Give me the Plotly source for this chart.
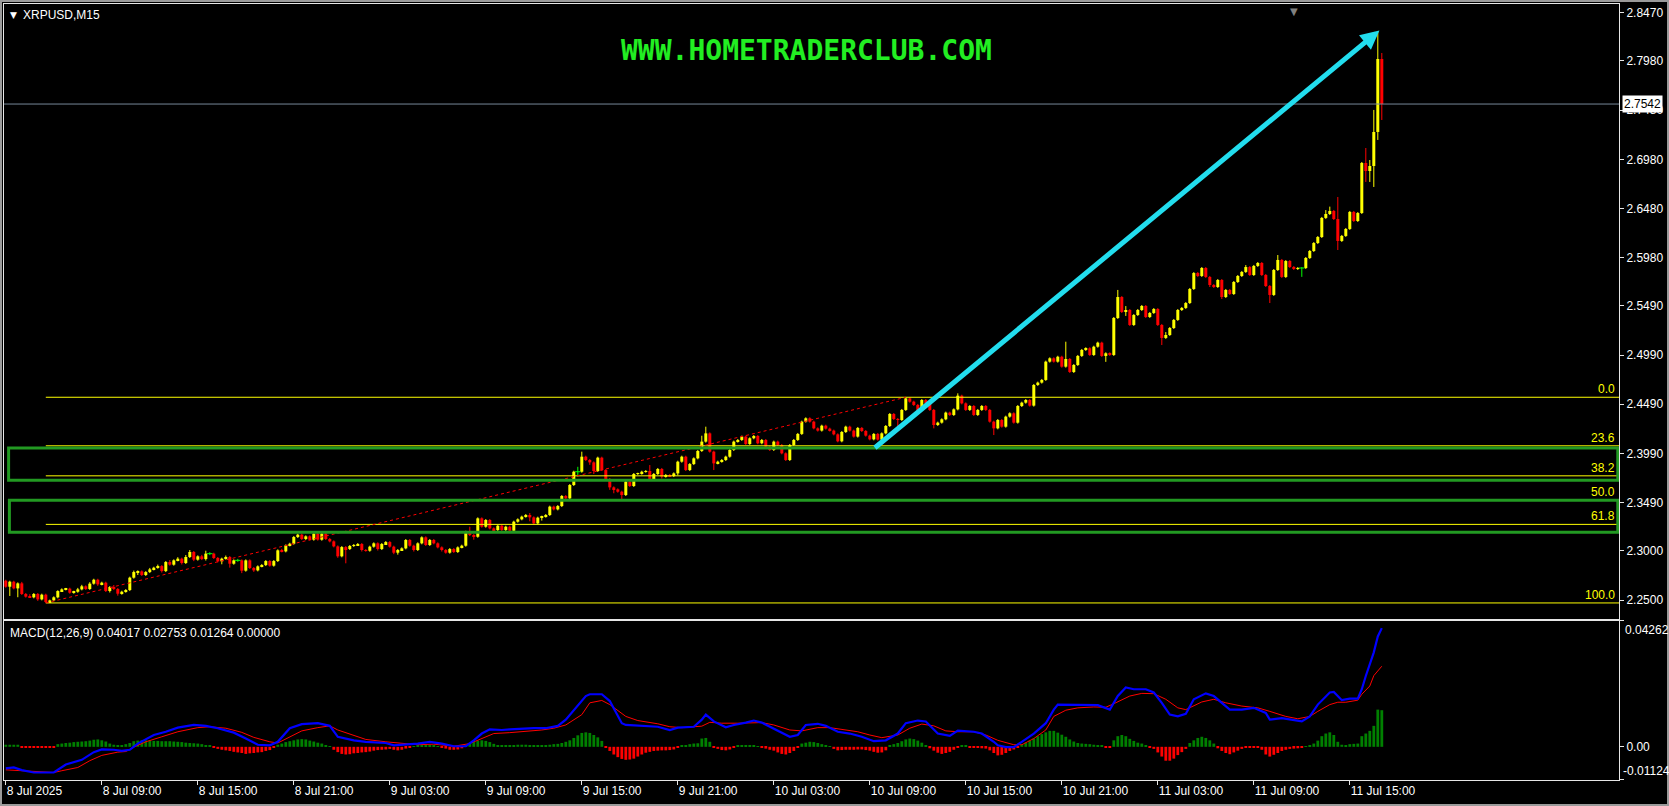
import plotly.graph_objects as go

# ------------------------------------------------------------------ data
# XRPUSD M15 closes, one per bar, first bar = 8 Jul 03:00
close = [
    2.2635, 2.2686, 2.2618, 2.2669, 2.2561, 2.2534, 2.2527, 2.2561, 2.2506, 2.2554,
    2.2479, 2.2496, 2.2527, 2.2591, 2.2608, 2.2615, 2.2574, 2.2584, 2.2608, 2.2639,
    2.2612, 2.2666, 2.2706, 2.2659, 2.2676, 2.2591, 2.2632, 2.2612, 2.2564, 2.2584,
    2.2601, 2.2727, 2.2784, 2.2791, 2.2754, 2.2784, 2.2811, 2.2828, 2.2845, 2.2794,
    2.2886, 2.2859, 2.2903, 2.2920, 2.2876, 2.2937, 2.2988, 2.2910, 2.2944, 2.2916,
    2.2971, 2.2971, 2.2927, 2.2893, 2.2920, 2.2937, 2.2869, 2.2903, 2.2903, 2.2798,
    2.2903, 2.2825, 2.2801, 2.2842, 2.2855, 2.2896, 2.2849, 2.2896, 2.3005, 2.2994,
    2.3055, 2.3072, 2.3140, 2.3164, 2.3120, 2.3147, 2.3113, 2.3174, 2.3113, 2.3174,
    2.3120, 2.3096, 2.3045, 2.2944, 2.3038, 2.3018, 2.3049, 2.3059, 2.3069, 2.3008,
    2.3001, 2.3042, 2.3076, 2.3018, 2.3069, 2.3089, 2.3042, 2.2981, 2.3008, 2.3025,
    2.3110, 2.3052, 2.3008, 2.3076, 2.3137, 2.3059, 2.3110, 2.3076, 2.3035, 2.3008,
    2.2981, 2.3018, 2.2988, 2.3035, 2.3052, 2.3194, 2.3160, 2.3143, 2.3330, 2.3245,
    2.3313, 2.3228, 2.3211, 2.3255, 2.3211, 2.3245, 2.3204, 2.3296, 2.3320, 2.3347,
    2.3364, 2.3340, 2.3279, 2.3337, 2.3347, 2.3364, 2.3449, 2.3421, 2.3455, 2.3557,
    2.3533, 2.3669, 2.3804, 2.3804, 2.3957, 2.3923, 2.3899, 2.3811, 2.3947, 2.3821,
    2.3730, 2.3645, 2.3625, 2.3601, 2.3567, 2.3703, 2.3659, 2.3781, 2.3784, 2.3804,
    2.3811, 2.3730, 2.3781, 2.3832, 2.3754, 2.3771, 2.3760, 2.3787, 2.3906, 2.3957,
    2.3821, 2.3882, 2.3940, 2.4015, 2.4110, 2.4194, 2.4008, 2.3889, 2.3906, 2.3923,
    2.3957, 2.4025, 2.4110, 2.4127, 2.4161, 2.4086, 2.4144, 2.4167, 2.4093, 2.4127,
    2.4059, 2.4025, 2.4110, 2.4076, 2.3991, 2.3923, 2.4076, 2.4127, 2.4188, 2.4313,
    2.4347, 2.4313, 2.4245, 2.4222, 2.4272, 2.4242, 2.4222, 2.4184, 2.4113, 2.4208,
    2.4262, 2.4222, 2.4161, 2.4249, 2.4218, 2.4171, 2.4133, 2.4188, 2.4130, 2.4194,
    2.4269, 2.4391, 2.4340, 2.4330, 2.4432, 2.4550, 2.4516, 2.4483, 2.4432, 2.4533,
    2.4499, 2.4432, 2.4279, 2.4303, 2.4337, 2.4405, 2.4381, 2.4438, 2.4577, 2.4499,
    2.4432, 2.4472, 2.4381, 2.4432, 2.4472, 2.4432, 2.4313, 2.4245, 2.4330, 2.4262,
    2.4364, 2.4398, 2.4303, 2.4472, 2.4506, 2.4533, 2.4476, 2.4686, 2.4710, 2.4737,
    2.4923, 2.4957, 2.4923, 2.4973, 2.4872, 2.4950, 2.4818, 2.4889, 2.4981, 2.5042,
    2.5059, 2.4991, 2.5075, 2.5116, 2.4981, 2.5008, 2.4991, 2.5367, 2.5580, 2.5428,
    2.5448, 2.5296, 2.5397, 2.5448, 2.5489, 2.5377, 2.5418, 2.5458, 2.5296, 2.5164,
    2.5194, 2.5265, 2.5347, 2.5448, 2.5469, 2.5519, 2.5662, 2.5824, 2.5794, 2.5875,
    2.5784, 2.5702, 2.5682, 2.5753, 2.5580, 2.5652, 2.5611, 2.5733, 2.5794, 2.5835,
    2.5885, 2.5804, 2.5896, 2.5926, 2.5804, 2.5692, 2.5601, 2.5855, 2.5957, 2.5784,
    2.5946, 2.5885, 2.5865, 2.5875, 2.5875, 2.5977, 2.6048, 2.6129, 2.6190, 2.6384,
    2.6424, 2.6455, 2.6373, 2.6150, 2.6201, 2.6272, 2.6445, 2.6353, 2.6434, 2.6943,
    2.6861, 2.6912, 2.7258, 2.8000, 2.7542,
]
first_open = 2.2696
WICK_UNIT = 0.0001
# wick lengths above / below the body, in WICK_UNIT
wick_up = [
    10, 10, 10, 10, 15, 10, 25, 10, 10, 10,
    10, 8, 10, 8, 10, 8, 10, 10, 15, 15,
    10, 15, 10, 10, 10, 10, 10, 20, 10, 10,
    10, 10, 15, 10, 10, 10, 15, 10, 15, 10,
    10, 20, 10, 15, 10, 20, 20, 10, 10, 15,
    30, 15, 10, 10, 10, 15, 10, 10, 15, 10,
    10, 10, 10, 10, 10, 10, 10, 10, 10, 15,
    10, 10, 10, 10, 10, 10, 10, 10, 10, 10,
    10, 10, 10, 10, 10, 10, 10, 10, 10, 10,
    10, 10, 10, 10, 10, 10, 10, 10, 10, 10,
    10, 10, 10, 10, 10, 10, 10, 10, 10, 10,
    10, 10, 10, 10, 10, 10, 51, 10, 10, 10,
    10, 10, 10, 10, 10, 10, 10, 10, 10, 10,
    10, 20, 10, 10, 10, 10, 10, 10, 10, 10,
    10, 10, 10, 50, 51, 10, 10, 10, 10, 10,
    10, 10, 10, 10, 10, 10, 10, 10, 10, 10,
    10, 61, 10, 10, 10, 10, 10, 10, 10, 10,
    10, 10, 10, 10, 60, 68, 10, 10, 10, 10,
    10, 20, 10, 10, 10, 10, 10, 10, 10, 10,
    10, 10, 10, 10, 10, 10, 10, 10, 10, 10,
    10, 10, 10, 10, 10, 10, 10, 10, 10, 10,
    10, 10, 10, 10, 10, 10, 10, 10, 10, 10,
    10, 10, 10, 10, 10, 11, 10, 10, 10, 10,
    10, 10, 10, 10, 10, 10, 10, 10, 24, 10,
    10, 10, 10, 10, 10, 10, 10, 10, 10, 10,
    10, 10, 10, 10, 10, 10, 10, 10, 10, 10,
    10, 10, 10, 10, 10, 176, 10, 10, 10, 10,
    10, 10, 10, 10, 10, 10, 10, 10, 72, 10,
    40, 10, 10, 10, 10, 10, 10, 10, 10, 10,
    30, 10, 10, 10, 10, 10, 10, 10, 10, 10,
    10, 10, 10, 10, 10, 10, 10, 10, 10, 10,
    20, 10, 10, 10, 10, 10, 10, 10, 50, 10,
    10, 10, 10, 10, 10, 10, 10, 10, 10, 10,
    40, 44, 10, 224, 10, 10, 10, 10, 10, 10,
    152, 61, 224, 278, 61,
]
wick_dn = [
    10, 94, 10, 90, 10, 10, 5, 10, 15, 10,
    9, 10, 8, 10, 10, 10, 10, 10, 10, 10,
    10, 10, 10, 15, 10, 10, 15, 10, 20, 10,
    10, 10, 10, 30, 10, 10, 10, 10, 10, 15,
    10, 10, 10, 10, 15, 10, 10, 15, 10, 10,
    15, 15, 10, 10, 30, 10, 40, 10, 15, 25,
    10, 10, 15, 10, 10, 10, 10, 10, 10, 10,
    10, 10, 10, 10, 10, 10, 10, 10, 10, 10,
    10, 10, 10, 15, 10, 145, 10, 10, 10, 15,
    10, 10, 10, 15, 10, 10, 10, 15, 20, 10,
    10, 10, 15, 10, 10, 10, 10, 10, 10, 15,
    10, 10, 10, 10, 10, 10, 10, 30, 10, 10,
    10, 10, 10, 10, 10, 10, 10, 10, 10, 10,
    10, 40, 10, 10, 30, 10, 10, 10, 10, 10,
    10, 10, 10, 50, 10, 10, 25, 30, 10, 10,
    10, 25, 40, 10, 50, 10, 10, 10, 10, 10,
    10, 10, 10, 10, 20, 10, 10, 10, 20, 10,
    10, 10, 10, 10, 10, 10, 10, 68, 10, 10,
    10, 10, 10, 10, 10, 10, 10, 10, 10, 10,
    10, 10, 10, 10, 10, 10, 10, 10, 10, 10,
    10, 10, 10, 10, 10, 10, 10, 10, 10, 10,
    10, 10, 10, 10, 10, 10, 10, 10, 10, 10,
    10, 10, 10, 61, 10, 10, 10, 10, 10, 10,
    10, 10, 34, 10, 10, 10, 10, 10, 10, 10,
    10, 10, 10, 10, 10, 10, 10, 68, 10, 10,
    10, 10, 10, 10, 10, 10, 10, 10, 10, 10,
    10, 10, 10, 10, 10, 10, 10, 10, 10, 10,
    10, 10, 10, 10, 10, 60, 10, 10, 10, 10,
    40, 10, 10, 10, 10, 10, 10, 10, 10, 72,
    10, 10, 10, 10, 10, 10, 10, 10, 10, 10,
    10, 20, 10, 10, 20, 10, 10, 10, 10, 10,
    10, 10, 10, 10, 10, 10, 82, 10, 10, 10,
    10, 10, 10, 10, 90, 10, 10, 10, 10, 10,
    10, 10, 10, 92, 10, 10, 10, 10, 10, 10,
    111, 111, 213, 81, 162,
]

time_tick_bars = [0, 24, 48, 72, 96, 120, 144, 168, 192, 216, 240, 264, 288, 312, 336]
time_tick_labels = ["8 Jul 2025", "8 Jul 09:00", "8 Jul 15:00", "8 Jul 21:00", "9 Jul 03:00",
                    "9 Jul 09:00", "9 Jul 15:00", "9 Jul 21:00", "10 Jul 03:00", "10 Jul 09:00",
                    "10 Jul 15:00", "10 Jul 21:00", "11 Jul 03:00", "11 Jul 09:00", "11 Jul 15:00"]
price_ticks = [2.2500, 2.3000, 2.3490, 2.3990, 2.4490, 2.4990, 2.5490, 2.5980,
               2.6480, 2.6980, 2.7480, 2.7980, 2.8470]
bid_price = 2.7542

fib_low, fib_high = 2.2470, 2.4561
fib_low_bar, fib_high_bar = 10, 225
fib_ratios = [0.0, 23.6, 38.2, 50.0, 61.8, 100.0]
zone_bands = [(2.3717, 2.4045), (2.3188, 2.3514)]
zone_left_bars = [0.7, 0.9]
arrow_tail = (216.9, 2.4035)
arrow_head = (343.4, 2.8290)

MACD_UNIT = 0.0001
macd_hist = [
    7, 7, 7, 7, -3, -3, -3, -3, -3, -3,
    -3, -3, -3, 9, 11, 13, 14, 16, 17, 18,
    19, 21, 24, 25, 22, 18, 11, 7, 5, 3,
    9, 13, 19, 21, 22, 22, 21, 20, 20, 19,
    19, 19, 18, 17, 16, 14, 13, 12, 11, 9,
    6, 4, -4, -7, -10, -12, -14, -17, -19, -21,
    -24, -22, -21, -19, -18, -14, -11, -4, 7, 11,
    16, 19, 22, 25, 26, 25, 21, 18, 14, 11,
    6, 2, -10, -18, -24, -26, -25, -22, -21, -19,
    -18, -16, -13, -11, -10, -9, -7, -10, -12, -10,
    -6, -2, 1, 3, 4, 5, 5, 4, 2, -1,
    -6, -10, -10, -9, -5, 6, 11, 17, 21, 22,
    20, 16, 10, 5, 4, 4, 5, 6, 7, 7,
    7, 6, 5, 5, 5, 6, 7, 9, 10, 13,
    17, 22, 30, 39, 47, 49, 47, 40, 32, 20,
    -3, -14, -26, -35, -41, -44, -43, -40, -33, -26,
    -20, -17, -14, -13, -12, -12, -11, -9, -3, 4,
    6, 9, 11, 12, 28, 30, 17, -1, -7, -11,
    -12, -9, -4, 4, 5, 5, 5, 4, 2, -4,
    -6, -10, -13, -19, -24, -26, -21, -14, -1, 11,
    14, 17, 16, 13, 9, 4, 2, -7, -12, -11,
    -10, -10, -10, -9, -9, -11, -13, -17, -20, -19,
    -12, 4, 9, 13, 19, 25, 28, 26, 21, 14,
    6, -5, -13, -20, -24, -21, -17, -10, -2, 4,
    4, -1, -3, -4, -5, -6, -12, -21, -29, -27,
    -21, -14, -9, -4, 9, 14, 21, 28, 36, 43,
    49, 54, 54, 48, 41, 34, 25, 18, 13, 11,
    10, 9, 7, 6, 4, -2, -4, 22, 36, 40,
    36, 27, 20, 14, 11, 6, -3, -7, -19, -33,
    -47, -47, -40, -28, -18, -7, 13, 22, 30, 34,
    30, 22, 11, -5, -14, -21, -25, -19, -13, -7,
    -4, -2, -1, -3, -10, -26, -33, -27, -21, -14,
    -10, -7, -6, -5, -4, 2, 5, 11, 21, 36,
    45, 49, 40, 17, 7, 6, 9, 10, 11, 36,
    45, 54, 71, 126, 124,
]
macd_main_bars = [0, 2, 4, 7, 12, 15, 19, 22, 24, 27, 29, 31, 33, 37, 40, 43, 47, 50, 53, 57,
                  60, 63, 66, 68, 71, 74, 78, 81, 83, 87, 90, 95, 97, 100, 103, 106, 109, 112, 115, 117,
                  119, 121, 124, 126, 130, 132, 135, 138, 140, 143, 145, 146, 149, 151, 154, 155, 160, 163, 166, 168,
                  172, 174, 175, 177, 180, 182, 185, 187, 189, 191, 194, 196, 198, 200, 203, 205, 208, 211, 214, 217,
                  220, 223, 225, 228, 230, 233, 236, 238, 242, 244, 247, 248, 250, 252, 254, 257, 260, 262, 263, 266,
                  270, 273, 276, 278, 280, 282, 285, 287, 289, 291, 293, 295, 297, 300, 302, 304, 306, 309, 312, 315,
                  316, 319, 321, 324, 326, 328, 331, 332, 334, 336, 338, 339, 340, 341, 342, 343, 344]
macd_main_vals = [-73, -70, -79, -87, -87, -60, -44, -18, -9, -10, -14, -10, 11, 40, 51, 65, 74, 71, 63, 48,
                  28, 7, 5, 17, 63, 77, 80, 71, 34, 22, 17, 13, 5, 7, 11, 17, 11, 2, 2, 22,
                  45, 59, 57, 59, 63, 63, 63, 71, 92, 138, 172, 178, 178, 155, 80, 74, 71, 68, 57, 65,
                  68, 92, 109, 86, 66, 74, 82, 89, 82, 68, 48, 34, 40, 74, 78, 71, 51, 45, 34, 19,
                  22, 45, 80, 89, 86, 45, 37, 55, 51, 45, 17, 5, -1, -1, 17, 45, 80, 126, 143, 143,
                  141, 141, 126, 172, 201, 195, 195, 184, 149, 109, 103, 112, 161, 181, 172, 149, 126, 126, 132, 115,
                  92, 97, 92, 86, 103, 143, 184, 186, 158, 163, 163, 195, 240, 280, 320, 374, 402]
macd_signal_bars = [0, 5, 12, 14, 18, 21, 24, 28, 30, 32, 35, 39, 43, 48, 51, 55, 59, 62, 66, 68,
                    71, 74, 78, 81, 83, 87, 90, 95, 99, 103, 107, 110, 112, 116, 119, 122, 126, 129, 134, 137,
                    140, 144, 146, 149, 151, 155, 158, 163, 166, 169, 174, 176, 179, 183, 186, 189, 192, 196, 199, 203,
                    206, 209, 213, 216, 219, 223, 226, 229, 232, 235, 238, 242, 245, 248, 252, 254, 257, 260, 262, 265,
                    268, 272, 275, 277, 281, 284, 287, 290, 293, 295, 299, 302, 305, 309, 313, 316, 320, 323, 326, 328,
                    331, 333, 335, 338, 339, 341, 342, 344]
macd_signal_vals = [-78, -81, -87, -81, -70, -47, -29, -18, -16, -1, 17, 34, 51, 65, 68, 63, 49, 32, 17, 13,
                    34, 54, 65, 71, 57, 40, 25, 17, 11, 7, 9, 5, 2, 11, 28, 45, 48, 51, 57, 63,
                    74, 109, 149, 157, 143, 103, 89, 78, 68, 65, 70, 83, 80, 80, 82, 82, 74, 57, 54, 65,
                    65, 60, 51, 40, 31, 40, 63, 77, 71, 54, 51, 51, 40, 22, 7, 7, 28, 57, 103, 124,
                    132, 135, 134, 146, 172, 181, 180, 161, 132, 126, 152, 161, 149, 138, 132, 120, 103, 95, 103, 120,
                    143, 151, 151, 158, 178, 206, 241, 273]
macd_header = "MACD(12,26,9) 0.04017 0.02753 0.01264 0.00000"
macd_top, macd_bottom = 0.04262, -0.01124

symbol_label = "XRPUSD,M15"
watermark = "WWW.HOMETRADERCLUB.COM"

# ------------------------------------------------------------------ styling
FONT = "Liberation Sans"
BULL, BEAR, DOJI = "#FFFF00", "#FF0000", "#00FF00"
X_RANGE = [-0.45, 403.3]
MAIN_DOMAIN = [0.2075, 1.0]
MACD_DOMAIN = [0.0, 0.2049]

n = len(close)
opens = [first_open] + close[:-1]
highs = [max(o, c) + u * WICK_UNIT for o, c, u in zip(opens, close, wick_up)]
lows = [min(o, c) - d * WICK_UNIT for o, c, d in zip(opens, close, wick_dn)]

groups = {"bull": ([], [], []), "bear": ([], [], []), "doji": ([], [], [])}
wicks = {"bull": ([], []), "bear": ([], []), "doji": ([], [])}
for i in range(n):
    o, c = opens[i], close[i]
    k = "bull" if c > o else ("bear" if c < o else "doji")
    gx, gh, gb = groups[k]
    gx.append(i)
    gh.append(abs(c - o))
    gb.append(min(o, c))
    wx, wy = wicks[k]
    wx += [i, i, None]
    wy += [lows[i], highs[i], None]

fig = go.Figure()
colors = {"bull": BULL, "bear": BEAR, "doji": DOJI}
for k in ("bull", "bear", "doji"):
    wx, wy = wicks[k]
    fig.add_trace(go.Scatter(x=wx, y=wy, mode="lines", line=dict(color=colors[k], width=1),
                             xaxis="x", yaxis="y", hoverinfo="skip"))
for k in ("bull", "bear"):
    gx, gh, gb = groups[k]
    fig.add_trace(go.Bar(x=gx, y=gh, base=gb, width=0.75, marker=dict(color=colors[k], line=dict(width=0)),
                         xaxis="x", yaxis="y", hoverinfo="skip"))
gx, gh, gb = groups["doji"]
fig.add_trace(go.Scatter(x=gx, y=gb, mode="markers",
                         marker=dict(symbol="line-ew", size=4, line=dict(color=DOJI, width=1)),
                         xaxis="x", yaxis="y", hoverinfo="skip"))

# MACD panel
hist_vals = [h * MACD_UNIT for h in macd_hist]
fig.add_trace(go.Bar(x=list(range(n)), y=hist_vals, width=0.7,
                     marker=dict(color=["#008000" if v > 0 else "#FF0000" for v in hist_vals], line=dict(width=0)),
                     xaxis="x2", yaxis="y2", hoverinfo="skip"))
fig.add_trace(go.Scatter(x=macd_signal_bars, y=[v * MACD_UNIT for v in macd_signal_vals], mode="lines",
                         line=dict(color="#FF0000", width=1), xaxis="x2", yaxis="y2", hoverinfo="skip"))
fig.add_trace(go.Scatter(x=macd_main_bars, y=[v * MACD_UNIT for v in macd_main_vals], mode="lines",
                         line=dict(color="#0000FF", width=2.2), xaxis="x2", yaxis="y2", hoverinfo="skip"))

shapes = []
annotations = []
# Fibonacci retracement
for r in fib_ratios:
    lvl = fib_high - (fib_high - fib_low) * r / 100.0
    shapes.append(dict(type="line", xref="x", yref="y", x0=fib_low_bar, x1=X_RANGE[1], y0=lvl, y1=lvl,
                       line=dict(color="#FFFF00", width=1), layer="above"))
    annotations.append(dict(text=f"{r:.1f}", xref="x domain", x=1, xanchor="right", xshift=-2,
                            yref="y", y=lvl, yanchor="bottom", yshift=-1, showarrow=False,
                            font=dict(family=FONT, size=12, color="#FFFF00")))
shapes.append(dict(type="line", xref="x", yref="y", x0=fib_low_bar, y0=fib_low, x1=fib_high_bar, y1=fib_high,
                   line=dict(color="#FF0000", width=1, dash="3px,3px"), layer="above"))
# zones
for (lo, hi), xl in zip(zone_bands, zone_left_bars):
    shapes.append(dict(type="rect", xref="x", yref="y", x0=xl, x1=X_RANGE[1] - 0.3, y0=lo, y1=hi,
                       line=dict(color="#229922", width=3), fillcolor="rgba(0,0,0,0)", layer="above"))
# bid line
shapes.append(dict(type="line", xref="x domain", yref="y", x0=0, x1=1, y0=bid_price, y1=bid_price,
                   line=dict(color="#778899", width=1), layer="above"))
# outer window frame
shapes.append(dict(type="rect", xref="paper", yref="paper", x0=-3 / 1615, x1=1664 / 1615, y0=-25 / 776,
                   y1=1 + 3 / 776, line=dict(color="#9a9a9a", width=2), fillcolor="rgba(0,0,0,0)"))

annotations += [
    dict(text="", x=arrow_head[0], y=arrow_head[1], xref="x", yref="y", ax=arrow_tail[0], ay=arrow_tail[1],
         axref="x", ayref="y", showarrow=True, arrowhead=2, arrowsize=0.75, arrowwidth=5,
         arrowcolor="#22DDEE", standoff=0),
    dict(text=f"{bid_price:.4f}", xref="paper", x=1, xanchor="left", xshift=3, yref="y", y=bid_price,
         yanchor="middle", showarrow=False, bgcolor="white", borderpad=1,
         font=dict(family=FONT, size=12, color="black")),
    dict(text=f"<b>{watermark}</b>", xref="paper", x=0.4966, xanchor="center", yref="paper", y=0.9407,
         yanchor="middle", showarrow=False, font=dict(family="DejaVu Sans Mono", size=28, color="#22EE22")),
    dict(text="▼", xref="paper", x=0.0025, xanchor="left", yref="paper", y=0.9858, yanchor="middle",
         showarrow=False, font=dict(family="DejaVu Sans", size=9, color="white")),
    dict(text=symbol_label, xref="paper", x=0.0105, xanchor="left", yref="paper", y=0.9858, yanchor="middle",
         showarrow=False, font=dict(family=FONT, size=12, color="white")),
    dict(text="▼", xref="paper", x=0.7988, xanchor="center", yref="paper", y=1.0, yanchor="top",
         showarrow=False, font=dict(family="DejaVu Sans", size=10, color="#808080")),
    dict(text=macd_header, xref="paper", x=0.0025, xanchor="left", yref="paper", y=0.1894, yanchor="middle",
         showarrow=False, font=dict(family=FONT, size=12, color="white")),
    dict(text=f"{macd_top:.5f}", xref="paper", x=1, xanchor="left", xshift=4, yref="y2", y=macd_top,
         yanchor="top", showarrow=False, font=dict(family=FONT, size=12, color="white")),
    dict(text=f"{macd_bottom:.5f}", xref="paper", x=1, xanchor="left", xshift=2, yref="y2", y=macd_bottom,
         yanchor="bottom", showarrow=False, font=dict(family=FONT, size=12, color="white")),
]

axis_common = dict(showgrid=False, zeroline=False, showline=True, linecolor="#e6e6e6", linewidth=1, mirror=True)
fig.update_layout(
    width=1669, height=806,
    margin=dict(l=4, r=50, t=4, b=26),
    paper_bgcolor="black", plot_bgcolor="black",
    showlegend=False, barmode="overlay", hovermode=False,
    shapes=shapes, annotations=annotations,
    xaxis=dict(domain=[0, 1], range=X_RANGE, anchor="y", showticklabels=False, ticks="", **axis_common),
    xaxis2=dict(domain=[0, 1], range=X_RANGE, anchor="y2", matches="x",
                tickvals=time_tick_bars, ticktext=time_tick_labels, ticks="outside", ticklen=4,
                tickcolor="#e6e6e6", ticklabelposition="outside right",
                tickfont=dict(family=FONT, size=12, color="white"), **axis_common),
    yaxis=dict(domain=MAIN_DOMAIN, range=[2.2307, 2.8559], anchor="x", side="right",
               tickvals=price_ticks, tickformat=".4f", ticks="outside", ticklen=4, tickcolor="#e6e6e6",
               tickfont=dict(family=FONT, size=12, color="white"), **axis_common),
    yaxis2=dict(domain=MACD_DOMAIN, range=[macd_bottom, macd_top], anchor="x2", side="right",
                tickvals=[macd_top, 0.0, macd_bottom], ticktext=["", "0.00", ""], ticks="outside", ticklen=4,
                tickcolor="#e6e6e6", tickfont=dict(family=FONT, size=12, color="white"), **axis_common),
)

fig.write_html("out.html", config={"displayModeBar": False},
               post_script="document.body.style.margin='0';document.body.style.overflow='hidden';")
